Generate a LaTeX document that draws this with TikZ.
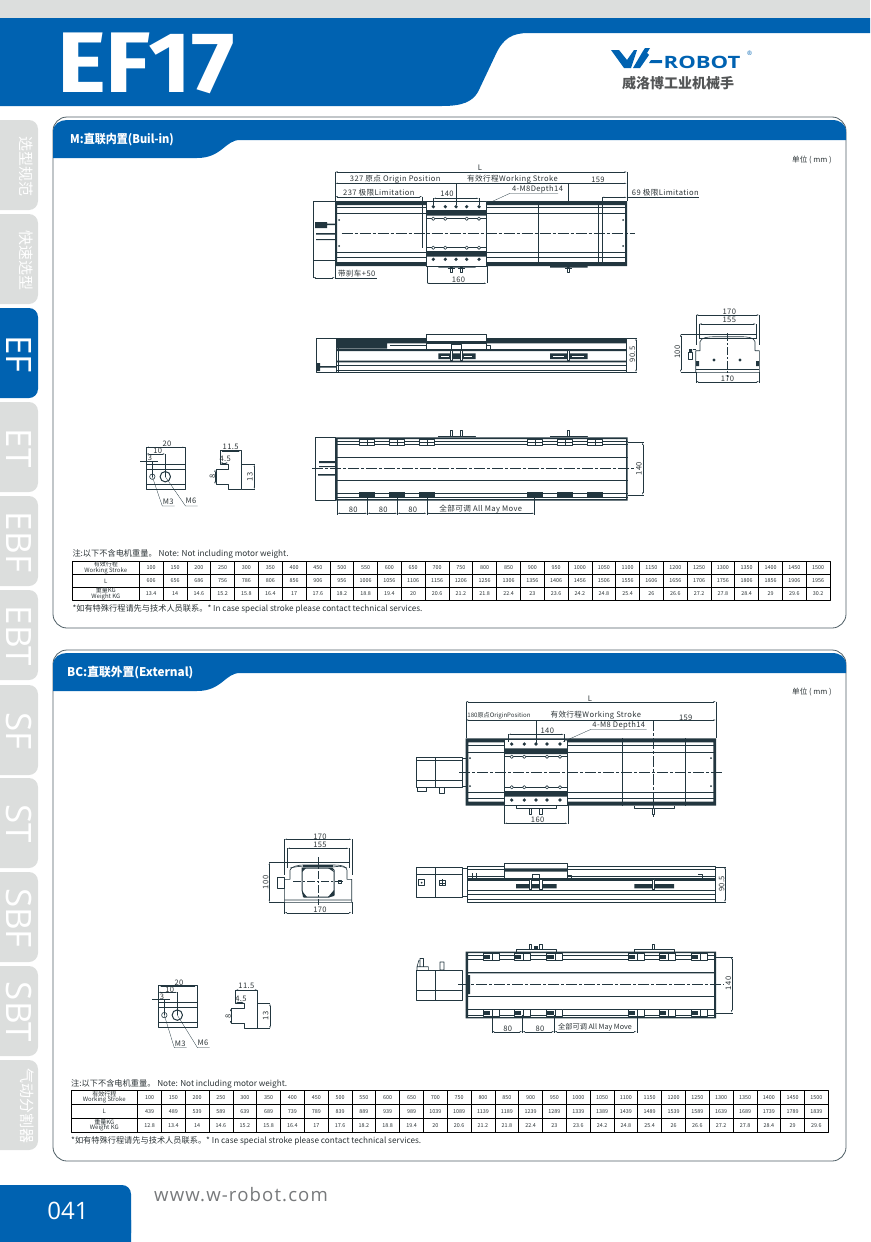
\documentclass[tikz,border=0pt]{standalone}
\usepackage{fontspec}
\setmainfont{Noto Sans CJK SC}
\newfontfamily\dimfont{Noto Sans CJK SC}[LetterSpace=5]
\newfontfamily\headfont{Fira Sans}
\newfontfamily\webfont{Open Sans}[LetterSpace=6]
\newfontfamily\tabfont{Open Sans}
\usetikzlibrary{arrows.meta}
\definecolor{wblue}{HTML}{0062B1}
\definecolor{tabgray}{HTML}{DCDEDD}
\definecolor{lineC}{HTML}{22363F}
\definecolor{textC}{HTML}{2B3336}
\definecolor{webgray}{HTML}{77797B}
\begin{document}
\begin{tikzpicture}[x=1pt, y=-1pt, line join=bevel]
    \useasboundingbox (0,0) rectangle (870,1242);

    \tikzset{%
      apply style/.code  = {\tikzset{#1}},
      thinline/.style    = {draw=lineC, line width=.6pt},
      thickline/.style   = {draw=lineC, line width=1pt},
      dimline/.style     = {draw=lineC, line width=.35pt, {Latex[length=2.5pt,width=1.2pt]}-{Latex[length=2.5pt,width=1.2pt]}},
      extline/.style     = {draw=lineC, line width=.3pt},
      centerline/.style  = {draw=lineC, line width=.5pt, dash pattern=on 11pt off 2pt on 3pt off 2pt},
      darkbar/.style     = {fill=lineC},
      dimlabel/.style    = {font=\dimfont\fontsize{7.6}{8}\selectfont, text=textC, inner sep=0pt},
      vlabel/.style      = {dimlabel, rotate=90},
      celltext/.style    = {font=\fontsize{5.4}{6}\selectfont, text=textC, inner sep=0pt},
      headtext/.style    = {font=\fontsize{6}{5.8}\selectfont, text=textC, inner sep=0pt, align=center},
      notetext/.style    = {font=\fontsize{8.2}{9}\selectfont, text=textC, inner sep=0pt, anchor=west},
      tablatin/.style    = {font=\tabfont\fontsize{35}{35}\selectfont},
      tabcjk/.style      = {font=\fontsize{15}{15}\selectfont}
    }

    % page head
    \fill[tabgray] (0,0) rectangle (870,18);
    \fill[wblue] (0,18) -- (870,18) -- (870,33) -- (529,33)
      .. controls (512,33) and (503,38) .. (495,56) -- (478,92)
      .. controls (472,102) and (462,106) .. (442,106) -- (0,106) -- cycle;
    \node[text=white, inner sep=0pt] (title) at (146,63)
      {\headfont\bfseries\fontsize{86}{86}\selectfont\scalebox{1.08}[1]{EF17}};

    % logo
    \fill[wblue] (611,50) -- (619,50) -- (627,60) -- (634,50) -- (637,50) -- (631,68) -- (624,68) -- cycle;
    \fill[wblue] (633,68) -- (643,51) -- (645,48) -- (650,48) -- (647,53) -- (649,55) -- (640,68) -- cycle;
    \fill[wblue] (651,60) -- (662,60) -- (662,63) -- (649,63) -- cycle;
    \node[text=wblue, inner sep=0pt, anchor=west] (robot) at (663.5,62)
      {\tabfont\bfseries\fontsize{17}{17}\selectfont\scalebox{1.3}[1]{ROBOT}};
    \node[text=wblue, inner sep=0pt] (regmark) at (749.5,53) {\tabfont\fontsize{6}{6}\selectfont ®};
    \node[text=webgray!70!black, inner sep=0pt] (logotext) at (678,83)
      {\bfseries\fontsize{14}{14}\selectfont 威洛博工业机械手};

    % side tabs
    \foreach \tabname/\taby/\tablab/\tabstyle/\tabfill/\tabx in {%
      tabA/120/选型规范/tabcjk/tabgray/26,
      tabB/214/快速选型/tabcjk/tabgray/26,
      tabC/308/EF/tablatin/wblue/19,
      tabD/402/ET/tablatin/tabgray/19,
      tabE/496/EBF/tablatin/tabgray/19,
      tabF/590/EBT/tablatin/tabgray/19,
      tabG/685/SF/tablatin/tabgray/19,
      tabH/778/ST/tablatin/tabgray/19,
      tabI/872/SBF/tablatin/tabgray/19,
      tabJ/966/SBT/tablatin/tabgray/19,
      tabK/1060/气动分割器/tabcjk/tabgray/27%
    }{
      \fill[\tabfill, rounded corners=9pt] (0,\taby) -- (38,\taby) -- (38,\taby+90) -- (0,\taby+90);
      \node[apply style/.expand once=\tabstyle, text=white, rotate=-90, inner sep=0pt]
        (\tabname) at (\tabx,\taby+46) {\tablab};
    }

    % panels
    \foreach \pany/\panname/\pantext/\panshift/\panscale in {%
      117/panM/{M:直联内置(Buil-in)}/70/.92,
      650/panBC/{BC:直联外置(External)}/67/.98%
    }{
      \draw[draw=lineC!80, line width=.8pt, rounded corners=14pt] (53,\pany) rectangle (846,\pany+511);
      \fill[wblue] (53,\pany+41) -- (53,\pany+15) .. controls (53,\pany+7) and (60,\pany+3) .. (67,\pany+3)
        -- (832,\pany+3) .. controls (840,\pany+3) and (846,\pany+7) .. (846,\pany+15) -- (846,\pany+23)
        -- (240,\pany+23) .. controls (225,\pany+23) and (222,\pany+41) .. (197,\pany+41) -- cycle;
      \node[text=white, inner sep=0pt, anchor=west] (\panname) at (\panshift,\pany+23)
        {\bfseries\fontsize{12}{12}\selectfont\scalebox{\panscale}[1]{\pantext}};
    }
    \node[dimlabel, font=\fontsize{7.6}{8}\selectfont] (unitM)  at (812,160.5) {单位 ( mm )};
    \node[dimlabel, font=\fontsize{7.6}{8}\selectfont] (unitBC) at (812,692)   {单位 ( mm )};

    % ---- M: top view ----
    \draw[thinline] (313,201) -- (335,201) (313,201) -- (313,278);
    \draw[thinline] (313,260) -- (335,260);
    \fill[darkbar] (335,201) rectangle (627,205) (335,262) rectangle (627,266)
      (335,205) rectangle (337,262) (625,205) rectangle (627,262);
    \foreach \liney in {207.3,213.3,252.3,257.7}{
      \draw[thinline] (335,\liney) -- (627,\liney);
    }
    \foreach \linex in {538.7,598.3,602.3}{
      \draw[thinline] (\linex,201) -- (\linex,266);
    }
    \filldraw[thinline, fill=white] (426.7,201) rectangle (486.7,266.5);
    \fill[darkbar] (426.7,210) rectangle (486.7,215.7) (426.7,251) rectangle (486.7,256.7);
    \foreach \holex in {433.3,445.3,456,466.7,479}{
      \fill[lineC] (\holex,206.7) circle (1.8pt) (\holex,259.3) circle (1.8pt);
    }
    \draw[thinline] (426.7,218.7) -- (486.7,218.7) (426.7,247.7) -- (486.7,247.7);
    \foreach \holex in {433.3,445.3,466.7,479}{
      \filldraw[thinline, fill=white] (\holex,218.7) circle (1.7pt) (\holex,247.7) circle (1.7pt);
    }
    \foreach \holey in {220,246}{
      \fill[lineC] (339,\holey) circle (1pt) (623,\holey) circle (1pt);
    }
    \fill[darkbar] (315,222) rectangle (327,228) (327,223.5) rectangle (335,225) (316,233) rectangle (335,234.5) (316,239) rectangle (335,240);
    \draw[centerline] (341.7,233.3) -- (635,233.3);
    \draw[thinline] (422.3,196.7) -- (422.3,247.7);
    \fill[darkbar] (438.3,266) rectangle (475.7,267.5) (550,266) rectangle (587.7,267.5);
    \foreach \boltx in {451,461,568.3}{
      \filldraw[thinline, fill=white] (\boltx-1.2,267) rectangle (\boltx+1.2,272.7);
      \draw[thinline] (\boltx-3.5,268.5) -- (\boltx+3.5,268.5);
    }

    \draw[dimline] (335,172) -- (627,172);
    \draw[dimline] (335,183.3) -- (627,183.3);
    \draw[dimline] (335,196.7) -- (422.3,196.7);
    \draw[dimline] (433.3,198.3) -- (479,198.3);
    \draw[dimline] (426.7,283.3) -- (486.7,283.3);
    \draw[dimline] (313,277.7) -- (335,277.7);
    \draw[dimline] (601.7,197.3) -- (627,197.3);
    \draw[extline] (335,172) -- (335,201) (627,172) -- (627,201)
      (456,183.3) -- (456,205) (568.3,183.3) -- (568.3,201)
      (433.3,198.3) -- (433.3,205) (479,198.3) -- (479,205)
      (426.7,266) -- (426.7,283.3) (486.7,266) -- (486.7,283.3)
      (601.7,197.3) -- (601.7,201) (335,266) -- (335,278)
      (335,277.7) -- (376.7,277.7) (627,197.3) -- (699,197.3);
    \coordinate (leadA) at (491.7,201.7);
    \draw[extline] (leadA) -- (510,193.3) -- (558,193.3);
    \foreach \nm/\px/\py/\lab in {%
      dimMa/480/167.5/L,
      dimMb/395.2/179/{327 原点 Origin Position},
      dimMc/512.5/179/{有效行程Working Stroke},
      dimMd/598/180/159,
      dimMe/378.8/193/{237 极限Limitation},
      dimMf/447/194/140,
      dimMg/537.5/189/{4-M8Depth14},
      dimMh/665.3/193/{69 极限Limitation},
      dimMi/458.5/280/160,
      dimMj/356.7/274/{带刹车+50}%
    }{
      \node[dimlabel] (\nm) at (\px,\py) {\lab};
    }

    % ---- M: side view ----
    \draw[thinline] (316,338) rectangle (336,372.3);
    \fill[darkbar] (316,363) rectangle (320,371) (320,366) rectangle (336,367.5);
    \draw[thinline] (336,338) rectangle (626.7,372.3);
    \fill[darkbar] (336,338) rectangle (626.7,343.3) (336,349) rectangle (626.7,351)
      (336,360.7) rectangle (626.7,362.3) (336,343.3) rectangle (387,348.5);
    \draw[thinline] (336,365) -- (626.7,365) (336,370) -- (626.7,370) (338,338) -- (338,372.3);
    \filldraw[thinline, fill=white] (426.7,334) rectangle (486.7,349);
    \fill[darkbar] (426.7,340.5) rectangle (486.7,343.5);
    \draw[thinline] (390,345) -- (426.7,345) (486.7,345) -- (490.7,345) -- (490.7,349);
    \fill[darkbar] (438.3,353.3) rectangle (475.7,359) (550,353.3) rectangle (587.7,359);
    \draw[white, line width=.7pt] (441,356) -- (449,356) (464,356) -- (472,356) (553,356) -- (564,356) (572,356) -- (584,356);
    \foreach \boltx in {451,461,568.3}{
      \filldraw[thinline, fill=white] (\boltx-1.2,350) rectangle (\boltx+1.2,360);
    }
    \draw[thinline] (451,344) rectangle (461,350);
    \draw[dimline] (636,338) -- (636,372.3);
    \draw[extline] (626.7,338) -- (637,338) (626.7,372.3) -- (637,372.3);
    \node[vlabel] (dimSa) at (632.5,354.3) {90.5};

    % ---- M: bottom view ----
    \draw[thinline] (315,437.3) rectangle (335,500.7);
    \fill[darkbar] (335,437.3) rectangle (627.7,439) (335,499) rectangle (627.7,500.7)
      (335,437.3) rectangle (337.5,500.7) (626,437.3) rectangle (627.7,500.7)
      (319,461) rectangle (335,463) (319,466) rectangle (335,467) (318,474) rectangle (335,475.5);
    \foreach \liney in {441.7,444,457.7,480.7,493.3,497.3}{
      \draw[thinline] (335,\liney) -- (627.7,\liney);
    }
    \draw[centerline] (312,468.3) -- (635,468.3);
    \foreach \nutx in {359.3,389.3,419.3,527.3,557.3,587.3}{
      \filldraw[thinline, fill=white] (\nutx,439) rectangle (\nutx+15.4,445.7);
      \draw[thinline] (\nutx,442.2) -- (\nutx+15.4,442.2) (\nutx+7.7,439) -- (\nutx+7.7,445.7);
      \fill[darkbar] (\nutx,492.3) rectangle (\nutx+15.4,498.3);
    }
    \draw[thinline] (438.3,437.3) -- (438.3,436) -- (475.7,436) -- (475.7,437.3)
      (550,437.3) -- (550,436) -- (587.7,436) -- (587.7,437.3);
    \foreach \boltx in {451,461,568.3}{
      \draw[thinline] (\boltx-1.2,436) rectangle (\boltx+1.2,430.7);
    }
    \draw[dimline] (642.7,442.3) -- (642.7,495);
    \draw[extline] (627.7,442.3) -- (644,442.3) (627.7,495) -- (644,495);
    \foreach \fromx/\tox in {337.3/367.3, 367.3/397.3, 397.3/426.7, 426.7/534.3}{
      \draw[dimline] (\fromx,513.3) -- (\tox,513.3);
      \draw[extline] (\tox,497) -- (\tox,514.5);
    }
    \draw[extline] (337.3,500) -- (337.3,514.5);
    \foreach \nm/\px/\py/\lab in {%
      dimBa/353.3/510/80,
      dimBb/383.3/510/80,
      dimBc/412.7/510/80,
      dimBd/480.8/509.3/{全部可调 All May Move}%
    }{
      \node[dimlabel] (\nm) at (\px,\py) {\lab};
    }
    \node[vlabel] (dimBe) at (639,468.7) {140};

    % ---- M: end view ----
    \filldraw[thinline, fill=white] (695.7,372.3) -- (695.7,350.7) -- (700,350.7) -- (700,341.7)
      .. controls (701,337.5) and (708,336.7) .. (715,336.7) -- (740,336.7)
      .. controls (748,336.7) and (754,337.5) .. (755,341.7) -- (755,350.7) -- (759.3,350.7) -- (759.3,372.3) -- cycle;
    \draw[thinline] (699,338.5) -- (756,338.5) (695.7,369.5) -- (759.3,369.5);
    \draw[extline] (680.7,334) -- (757,334) (680.7,372.3) -- (695.7,372.3);
    \fill[darkbar] (696,361) rectangle (699,366) (756,361) rectangle (759,366)
      (714,360) circle (1.6pt) (740,360) circle (1.6pt) (689,349) rectangle (692,352);
    \draw[thinline] (688.3,352) rectangle (692.5,359) (692.5,349) -- (695.7,349);
    \draw[extline, dash pattern=on 8pt off 2pt on 2pt off 2pt] (727.3,333) -- (727.3,376.7);
    \draw[dimline] (695.7,315) -- (759.3,315);
    \draw[dimline] (699,324) -- (756,324);
    \draw[dimline] (695.7,381.7) -- (759.3,381.7);
    \draw[dimline] (680.7,334) -- (680.7,372.3);
    \draw[extline] (695.7,315) -- (695.7,345) (759.3,315) -- (759.3,345) (699,324) -- (699,339) (756,324) -- (756,339)
      (695.7,372.3) -- (695.7,382.7) (759.3,372.3) -- (759.3,382.7);
    \node[dimlabel] (dimEa) at (729.3,311.5) {170};
    \node[dimlabel] (dimEb) at (729.3,320) {155};
    \node[dimlabel] (dimEc) at (727.5,379) {170};
    \node[vlabel]   (dimEd) at (677.5,352) {100};

    % ---- clamp and nut, both panels ----
    \foreach \sx/\sy/\px/\py/\ly/\idx in {%
      0/0/0/0/506/A,
      12/538.4/15.7/539.3/1047.7/B%
    }{
      \begin{scope}[shift={(\sx,\sy)}]
        \draw[thinline] (146.3,447.3) rectangle (185,489.3);
        \draw[thinline] (146.3,464.3) -- (185,464.3) (146.3,469.3) -- (185,469.3) (146.3,484.3) -- (185,484.3);
        \draw[thinline] (152.3,476.7) circle (2.7pt);
        \draw[thickline] (165.3,476.7) circle (5.2pt);
        \draw[dimline] (146.3,447.3) -- (185,447.3);
        \draw[dimline] (146.3,454) -- (165.3,454);
        \draw[extline] (165.3,454) -- (165.3,476.7) (152.3,461) -- (152.3,476.7) (146.3,447.3) -- (146.3,461);
        \draw[draw=lineC, line width=.5pt] (140,461) -- (158.3,461);
        \draw[extline] (152.3,476.7) -- (162.3,\ly-\sy) -- (174.5,\ly-\sy)
          (165.3,476.7) -- (185.5,\ly-\sy) -- (197.5,\ly-\sy);
        \node[dimlabel] (nut20\idx) at (167,444) {20};
        \node[dimlabel] (nut10\idx) at (157.7,451) {10};
        \node[dimlabel] (nut3\idx)  at (150,458) {3};
        \node[dimlabel] (nutMc\idx) at (168.3,\ly-\sy-4) {M3};
        \node[dimlabel] (nutMf\idx) at (191,\ly-\sy-5) {M6};
      \end{scope}
      \begin{scope}[shift={(\px,\py)}]
        \draw[thinline] (220,450.7) -- (241.7,450.7) -- (241.7,489.3) -- (228.3,489.3) -- (228.3,484.3)
          -- (216,484.3) -- (216,469.3) -- (228.3,469.3) -- (228.3,464.3) -- (220,464.3) -- cycle;
        \draw[thinline] (241.7,464.3) -- (254.5,464.3) (241.7,489.3) -- (254.5,489.3);
        \draw[dimline] (220,450.7) -- (241.7,450.7);
        \draw[dimline] (220,463) -- (228.3,463);
        \draw[dimline] (215,469.3) -- (215,484.3);
        \draw[dimline] (254.3,464.3) -- (254.3,489.3);
        \node[dimlabel] (prf1\idx) at (230.7,446.7) {11.5};
        \node[dimlabel] (prf2\idx) at (225.3,459.3) {4.5};
        \node[vlabel]   (prf3\idx) at (212.5,476.7) {8};
        \node[vlabel]   (prf4\idx) at (250,476.7) {13};
      \end{scope}
    }

    % ---- BC: top view ----
    \draw[thinline] (416,757.7) rectangle (462.3,787.3) (462.3,758.5) -- (465.7,758.5) (462.3,786.5) -- (465.7,786.5);
    \draw[thinline] (416,760) -- (462.3,760) (416,780.7) -- (462.3,780.7);
    \draw[thickline] (435.7,757.7) -- (435.7,787.3);
    \draw[thinline] (417.7,787.3) rectangle (426.7,791) (439.3,787.3) rectangle (444.3,793.3);
    \fill[darkbar] (465.7,738.3) rectangle (716,742.3) (465.7,801.7) rectangle (716,805.7)
      (465.7,738.3) rectangle (468.3,805.7) (713.3,738.3) rectangle (716,805.7);
    \foreach \liney in {745,752.3,792.3,798.3}{
      \draw[thinline] (465.7,\liney) -- (716,\liney);
    }
    \foreach \linex in {622.7,685.7}{
      \draw[thinline] (\linex,738.3) -- (\linex,805.7);
    }
    \filldraw[thinline, fill=white] (504.3,739) rectangle (567.7,805);
    \fill[darkbar] (504.3,748.3) rectangle (567.7,754) (504.3,791) rectangle (567.7,796.7);
    \foreach \holex in {511.7,524.3,536,547,560}{
      \fill[lineC] (\holex,744) circle (1.8pt) (\holex,800) circle (1.8pt);
    }
    \draw[thinline] (504.3,756.7) -- (567.7,756.7) (504.3,787.3) -- (567.7,787.3);
    \foreach \holex in {511.7,524.3,547,560}{
      \filldraw[thinline, fill=white] (\holex,756.7) circle (1.7pt) (\holex,787.3) circle (1.7pt);
    }
    \foreach \holey in {758,786}{
      \fill[lineC] (470,\holey) circle (1pt) (711,\holey) circle (1pt);
    }
    \draw[centerline] (459.3,772.3) -- (724,772.3);
    \draw[centerline] (653.3,720) -- (653.3,816.7);
    \draw[thinline] (516,806) -- (516,808) -- (556.7,808) -- (556.7,806) (634.3,806) -- (634.3,808) -- (674,808) -- (674,806);
    \foreach \boltx in {530,540.7,653.3}{
      \filldraw[thinline, fill=white] (\boltx-1.2,808) rectangle (\boltx+1.2,814);
    }
    \draw[dimline] (465.7,701.7) -- (716,701.7);
    \draw[dimline] (465.7,720) -- (716,720);
    \draw[dimline] (508.3,734.3) -- (564,734.3);
    \draw[dimline] (504.3,823.3) -- (567.7,823.3);
    \draw[extline] (465.7,701.7) -- (465.7,738.3) (716,701.7) -- (716,738.3) (536,720) -- (536,744)
      (508.3,734.3) -- (508.3,742) (564,734.3) -- (564,742)
      (504.3,805) -- (504.3,824.3) (567.7,805) -- (567.7,824.3);
    \coordinate (leadB) at (563.3,741.7);
    \draw[extline] (leadB) -- (591,729.3) -- (646.7,729.3);
    \foreach \nm/\px/\py/\lab in {%
      dimNa/590/698.5/L,
      dimNc/595.8/715.3/{有效行程Working Stroke},
      dimNd/685.7/717.3/159,
      dimNe/547.3/730.7/140,
      dimNf/618.8/725.3/{4-M8 Depth14},
      dimNg/537.7/820/160%
    }{
      \node[dimlabel] (\nm) at (\px,\py) {\lab};
    }
    \node[dimlabel, font=\fontsize{6.1}{7}\selectfont] (dimNb) at (499,715.3) {180原点OriginPosition};

    % ---- BC: side view ----
    \draw[thinline] (416,867.3) rectangle (462.3,897.3) (416,874) -- (462.3,874);
    \draw[thickline] (435.7,867.3) -- (435.7,897.3);
    \draw[thinline] (418.7,879.7) rectangle (424.7,885.7) (439.7,880.7) rectangle (445,885.5)
      (439.7,883) -- (445,883) (442.3,879) -- (442.3,885.5);
    \fill[lineC] (421.7,882.7) circle (1pt);
    \draw[thinline] (467.7,866.7) rectangle (715,902.3) (462.3,868) -- (467.7,868) (462.3,896) -- (467.7,896);
    \fill[darkbar] (467.7,878.3) rectangle (715,880.7);
    \foreach \liney in {869,876,890,894,899.3}{
      \draw[thinline] (467.7,\liney) -- (715,\liney);
    }
    \filldraw[thinline, fill=white] (504.3,863.3) rectangle (567.7,878.3);
    \fill[darkbar] (504.3,868.3) rectangle (567.7,871.7) (516,884) rectangle (556.7,888.3) (634.3,884) rectangle (674,888.3);
    \draw[thinline] (567.7,875) -- (571.7,875) -- (571.7,878.3) (698,874) -- (702,874) -- (702,878.3) (472,873) -- (472,878.3) (476,873) -- (476,878.3);
    \foreach \boltx in {530,540.7,653.3}{
      \filldraw[thinline, fill=white] (\boltx-1.2,879) rectangle (\boltx+1.2,889.5);
    }
    \draw[thinline] (532,874) rectangle (539,879);
    \draw[dimline] (725,866.7) -- (725,902.3);
    \draw[extline] (715,866.7) -- (726,866.7) (715,902.3) -- (726,902.3);
    \node[vlabel] (dimRa) at (721.7,884) {90.5};

    % ---- BC: bottom view ----
    \draw[thinline] (416,970) rectangle (462.3,1000) (416,990) -- (462.3,990);
    \draw[thickline] (435.7,970) -- (435.7,1000);
    \draw[thinline] (420,958.5) rectangle (423.5,966.7) (417,966.7) -- (419,960) (417,966.7) -- (428.3,966.7) -- (428.3,970) (417,966.7) -- (417,970)
      (440,962) rectangle (444,970);
    \fill[darkbar] (465.7,951.7) rectangle (716,953) (465.7,1017) rectangle (716,1018.3)
      (465.7,951.7) rectangle (468,1018.3) (714,951.7) rectangle (716,1018.3)
      (468,972) rectangle (714,973.4) (465.7,975) rectangle (470,994);
    \foreach \liney in {955,959.3,996.7,1009,1015}{
      \draw[thinline] (465.7,\liney) -- (716,\liney);
    }
    \draw[centerline] (458.3,984.3) -- (724,984.3);
    \foreach \nutx in {483.3,514.3,546.7,628.3,659.3,691}{
      \foreach \nuty in {953.3,1009.3}{
        \filldraw[thinline, fill=white] (\nutx,\nuty) rectangle (\nutx+16,\nuty+7);
        \fill[darkbar] (\nutx,\nuty+1.5) rectangle (\nutx+7,\nuty+5.5);
        \draw[thinline] (\nutx+9,\nuty) -- (\nutx+9,\nuty+7);
      }
    }
    \draw[thinline] (516,951.7) -- (516,949.3) -- (556.7,949.3) -- (556.7,951.7) (634.3,951.7) -- (634.3,949.3) -- (674,949.3) -- (674,951.7);
    \foreach \boltx in {530,540.7,653.3}{
      \draw[thinline] (\boltx-1.2,949.3) rectangle (\boltx+1.2,944);
    }
    \fill[darkbar] (534,945.5) rectangle (538,949.3);
    \draw[dimline] (731.7,956.7) -- (731.7,1012.7);
    \draw[extline] (716,956.7) -- (733,956.7) (716,1012.7) -- (733,1012.7);
    \node[vlabel] (dimTa) at (728.3,983.3) {140};
    \foreach \fromx/\tox in {491.7/522.3, 522.3/554.3, 554.3/636.7}{
      \draw[dimline] (\fromx,1031.7) -- (\tox,1031.7);
      \draw[extline] (\tox,1015) -- (\tox,1033);
    }
    \draw[extline] (491.7,1015) -- (491.7,1033);
    \node[dimlabel] (dimTb) at (507.7,1029) {80};
    \node[dimlabel] (dimTc) at (540,1029) {80};
    \node[dimlabel, font=\fontsize{7.2}{8}\selectfont] (dimTd) at (595,1027.3) {全部可调 All May Move};

    % ---- BC: end view ----
    \filldraw[thinline, fill=white] (284.3,902.3) -- (284.3,879.3) -- (290,879.3) -- (290,870)
      .. controls (291,866) and (300,865) .. (303,865) -- (333,865)
      .. controls (342,865) and (346,866) .. (347,870) -- (347,879.3) -- (351.7,879.3) -- (351.7,902.3) -- cycle;
    \draw[thinline] (284.3,900) -- (351.7,900) (290,868) .. controls (300,866) .. (303,867) -- (333,867) .. controls (340,866) .. (347,868);
    \fill[darkbar] (303,865) rectangle (333,867);
    \draw[thickline] (302,868) -- (332,868) -- (334,870) -- (334,895) -- (329,897) -- (304,897) -- (302,890) -- cycle;
    \fill[lineC] (302,868) -- (306,868) -- (302,872) -- cycle (332,868) -- (334,872) -- (328,868) -- cycle
      (302,891) -- (307,897) -- (303,897) -- cycle (334,890) -- (334,896) -- (328,897) -- cycle;
    \draw[extline, dash pattern=on 8pt off 2pt on 2pt off 2pt] (318.3,857.3) -- (318.3,905);
    \draw[extline, dash pattern=on 8pt off 2pt on 2pt off 2pt] (293.3,880.7) -- (343.3,880.7);
    \draw[thinline] (277.7,877.3) rectangle (284.3,888.3) (338.3,880) rectangle (341.7,883.3);
    \draw[dimline] (284.3,839.3) -- (351.7,839.3);
    \draw[dimline] (287.3,848.3) -- (349,848.3);
    \draw[dimline] (284.3,912.7) -- (351.7,912.7);
    \draw[dimline] (269.3,862.3) -- (269.3,902.3);
    \draw[extline] (269.3,862.3) -- (349,862.3) (269.3,902.3) -- (284.3,902.3)
      (284.3,839.3) -- (284.3,875) (351.7,839.3) -- (351.7,875)
      (287.3,848.3) -- (287.3,868) (349,848.3) -- (349,868)
      (284.3,902.3) -- (284.3,913.7) (351.7,902.3) -- (351.7,913.7);
    \node[dimlabel] (dimGa) at (320,836.5) {170};
    \node[dimlabel] (dimGb) at (320,845) {155};
    \node[dimlabel] (dimGc) at (320,910) {170};
    \node[vlabel]   (dimGd) at (265.7,882.3) {100};

    % ---- tables ----
    \pgfmathsetmacro{\cellw}{23.82}
    \foreach \tabx/\tabxx/\taba/\tabb/\tabc/\tabd/\idx/\notey/\footy in {%
      72.3/139.3/561.3/574.3/587.3/600.3/M/554/608.5,
      71/137.6/1090/1104.3/1118.3/1132.3/B/1084/1140.5%
    }{
      \draw[draw=black, line width=.8pt] (\tabx,\taba) rectangle (\tabxx+29*\cellw,\tabd);
      \draw[draw=black, line width=.7pt] (\tabx,\tabb) -- (\tabxx+29*\cellw,\tabb) (\tabx,\tabc) -- (\tabxx+29*\cellw,\tabc);
      \foreach \i in {0,...,28}{
        \draw[draw=black, line width=.7pt] (\tabxx+\i*\cellw,\taba) -- (\tabxx+\i*\cellw,\tabd);
      }
      \foreach \i in {1,...,29}{
        \pgfmathtruncatemacro{\strokeval}{50+50*\i}
        \node[celltext] (stroke\idx\i) at ({\tabxx+(\i-.5)*\cellw},{(\taba+\tabb)/2}) {\strokeval};
      }
      \node[headtext] (headA\idx) at ({(\tabx+\tabxx)/2},{(\taba+\tabb)/2}) {有效行程\\Working Stroke};
      \node[headtext] (headB\idx) at ({(\tabx+\tabxx)/2},{(\tabb+\tabc)/2}) {L};
      \node[headtext] (headC\idx) at ({(\tabx+\tabxx)/2},{(\tabc+\tabd)/2}) {重量KG\\Weight KG};
      \node[notetext] (noteA\idx) at (\tabx,\notey) {注:以下不含电机重量。 Note: Not including motor weight.};
      \node[notetext] (noteB\idx) at (\tabx,\footy) {*如有特殊行程请先与技术人员联系。* In case special stroke please contact technical services.};
    }
    \foreach \rowname/\rowx/\rowy/\rowvals in {%
      lenM/139.3/580.8/{606,656,686,756,786,806,856,906,956,1006,1056,1106,1156,1206,1256,1306,1356,1406,1456,1506,1556,1606,1656,1706,1756,1806,1856,1906,1956},
      kgM/139.3/593.8/{13.4,14,14.6,15.2,15.8,16.4,17,17.6,18.2,18.8,19.4,20,20.6,21.2,21.8,22.4,23,23.6,24.2,24.8,25.4,26,26.6,27.2,27.8,28.4,29,29.6,30.2},
      lenB/137.6/1111.3/{439,489,539,589,639,689,739,789,839,889,939,989,1039,1089,1139,1189,1239,1289,1339,1389,1439,1489,1539,1589,1639,1689,1739,1789,1839},
      kgB/137.6/1125.3/{12.8,13.4,14,14.6,15.2,15.8,16.4,17,17.6,18.2,18.8,19.4,20,20.6,21.2,21.8,22.4,23,23.6,24.2,24.8,25.4,26,26.6,27.2,27.8,28.4,29,29.6}%
    }{
      \foreach \val [count=\i] in \rowvals {
        \node[celltext] (\rowname\i) at ({\rowx+(\i-.5)*\cellw},\rowy) {\val};
      }
    }

    % page foot
    \fill[wblue, rounded corners=9pt] (0,1185) -- (131,1185) -- (131,1242) -- (0,1242) -- (0,1242);
    \fill[wblue] (0,1185) rectangle (20,1242) (100,1220) rectangle (131,1242);
    \node[text=white, inner sep=0pt] (pageno) at (68,1210.5) {\tabfont\fontsize{24}{24}\selectfont 041};
    \node[text=webgray, inner sep=0pt, anchor=west] (website) at (154,1195) {\webfont\fontsize{18.6}{19}\selectfont www.w-robot.com};
\end{tikzpicture}
\end{document}
